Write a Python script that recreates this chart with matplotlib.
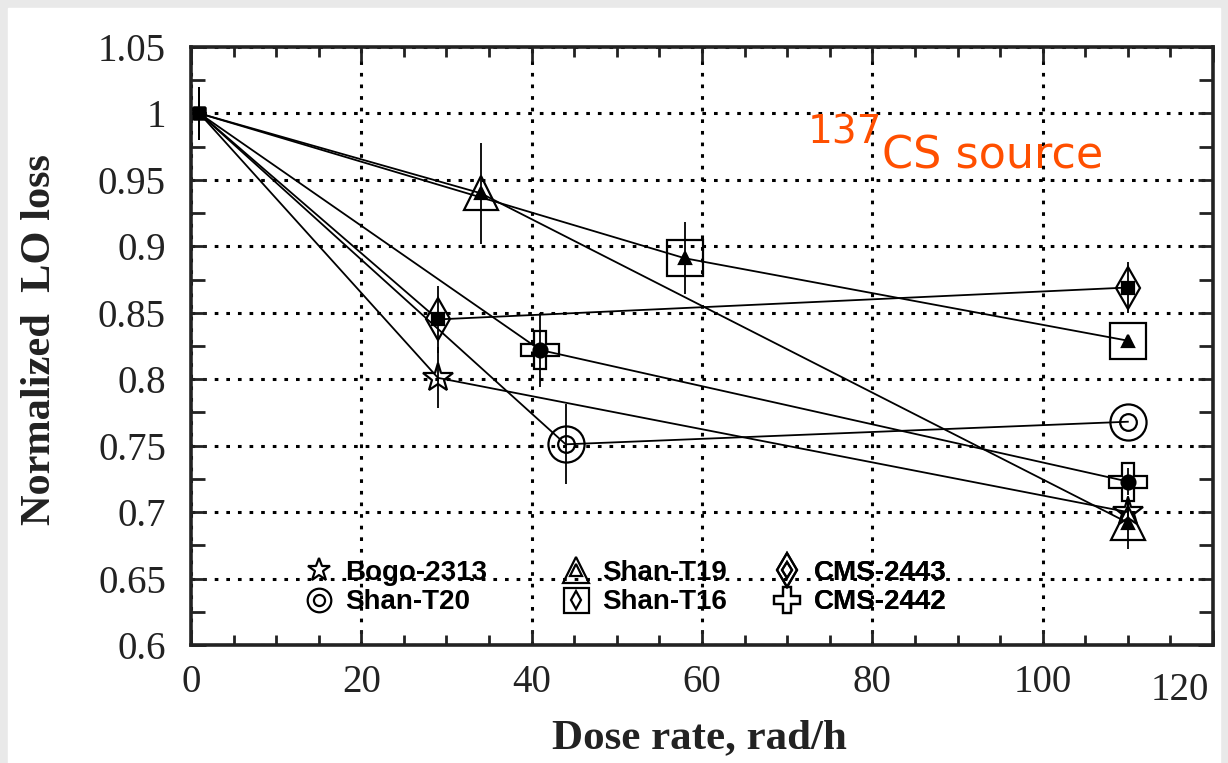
import matplotlib
matplotlib.use('Agg')
import matplotlib.pyplot as plt
from matplotlib.lines import Line2D
from matplotlib.patches import Rectangle
from matplotlib.ticker import MultipleLocator, FuncFormatter

# ---- values ----
bogo_x = [1, 29, 110]
bogo_y = [1.0, 0.801, 0.700]
bogo_err = [0.02, 0.023, 0.01]

t19_x = [1, 34, 110]
t19_y = [1.0, 0.940, 0.692]
t19_err = [0.02, 0.038, 0.02]

t16_x = [1, 58, 110]
t16_y = [1.0, 0.891, 0.829]
t16_err = [0.02, 0.027, 0.0]

cms2443_x = [1, 29, 110]
cms2443_y = [1.0, 0.845, 0.869]
cms2443_err = [0.02, 0.025, 0.019]

cms2442_x = [1, 41, 110]
cms2442_y = [1.0, 0.822, 0.723]
cms2442_err = [0.02, 0.028, 0.01]

t20_x = [1, 44, 110]
t20_y = [1.0, 0.751, 0.768]
t20_err = [0.02, 0.03, 0.0]

x_ticks = [0, 20, 40, 60, 80, 100, 120]

serif = 'Liberation Serif'

fig = plt.figure(figsize=(12.28, 7.63), dpi=100, facecolor='#e9e9e9')
fig.add_artist(Rectangle((8 / 1228, 0), 1212 / 1228, 755 / 763,
                         transform=fig.transFigure, color='white', zorder=0))
ax = fig.add_axes([0.1555, 0.1547, 0.8323, 0.7837])

# (x, y, err, outer marker, outer size, inner marker, inner size, inner filled)
series = [
    (bogo_x, bogo_y, bogo_err, '*', 22, None, 0, False),
    (t19_x, t19_y, t19_err, '^', 25, '^', 9, True),
    (t16_x, t16_y, t16_err, 's', 26, '^', 9, True),
    (cms2443_x, cms2443_y, cms2443_err, 'd', 21, 's', 9, True),
    (cms2442_x, cms2442_y, cms2442_err, 'P', 27, 'o', 10, True),
    (t20_x, t20_y, t20_err, 'o', 26, 'o', 12, False),
]

for x, y, err, m, ms, im, ims, filled in series:
    ax.errorbar(x, y, yerr=err, fmt='none', ecolor='black', elinewidth=1.3,
                capsize=0, zorder=2)
    ax.plot(x, y, color='black', lw=1.3, zorder=3)
    ax.plot(x, y, ls='none', marker=m, ms=ms, mfc='none', mec='black',
            mew=1.6, markevery=[1, 2], zorder=4)
    if im:
        ax.plot(x, y, ls='none', marker=im, ms=ims,
                mfc='black' if filled else 'none', mec='black', mew=1.6,
                markevery=[1, 2], zorder=5)
    ax.plot(x[0], y[0], ls='none', marker='s', ms=9, color='black', zorder=5)

ax.set_xlim(0, 120)
ax.set_ylim(0.6, 1.05)
ax.set_xticks(x_ticks)
ax.xaxis.set_minor_locator(MultipleLocator(5))
# the last x label sits inside the frame in the original, drawn separately
ax.xaxis.set_major_formatter(FuncFormatter(
    lambda v, p: '' if v == x_ticks[-1] else '%d' % v))
ax.yaxis.set_major_locator(MultipleLocator(0.05))
ax.yaxis.set_minor_locator(MultipleLocator(0.025))
ax.yaxis.set_major_formatter(FuncFormatter(lambda v, p: '%g' % round(v, 3)))

ax.tick_params(which='both', direction='in', top=True, right=True,
               width=2, color='#222222', labelsize=28,
               labelcolor='#222222', labelfontfamily=serif)
ax.tick_params(which='major', length=11)
ax.tick_params(axis='x', which='minor', length=7)
ax.tick_params(axis='y', which='minor', length=10)
ax.tick_params(axis='x', pad=14)
ax.tick_params(axis='y', pad=18)
ax.annotate(str(x_ticks[-1]), xy=(x_ticks[-1], 0.6), xytext=(-24, -33),
            textcoords='offset points', ha='center', va='center',
            fontsize=28, fontfamily=serif, color='#222222',
            annotation_clip=False)
for sp in ax.spines.values():
    sp.set_linewidth(2.6)
    sp.set_color('#222222')

ax.grid(True, which='major', color='black', lw=2.2, ls=(0, (1.2, 2.6)))
ax.set_axisbelow(True)

fig.text(40 / 1228, 1 - 340 / 763, 'Normalized  LO loss', rotation=90,
         ha='center', va='center', fontfamily=serif, fontweight='bold',
         fontsize=30.5, color='#222222')
fig.text(699 / 1228, 1 - 738 / 763, 'Dose rate, rad/h', ha='center',
         va='center', fontfamily=serif, fontweight='bold', fontsize=31,
         color='#222222')

# annotation
ax.text(0.603, 0.838, '137', transform=ax.transAxes, color='#ff4f00',
        fontsize=28, fontfamily='DejaVu Sans', ha='left', va='baseline')
ax.text(0.676, 0.797, 'CS source', transform=ax.transAxes, color='#ff4f00',
        fontsize=32, fontfamily='DejaVu Sans', ha='left', va='baseline')

# legend, one per column
def h(m, ms, im=None, ims=0):
    outer = Line2D([], [], ls='none', marker=m, ms=ms, mfc='none',
                   mec='black', mew=1.6)
    if im is None:
        return outer
    inner = Line2D([], [], ls='none', marker=im, ms=ims, mfc='none',
                   mec='black', mew=1.6)
    return (outer, inner)

cols = [
    ([h('*', 17), h('o', 17, 'o', 8)], ['Bogo-2313', 'Shan-T20'], 0.1115),
    ([h('^', 19, '^', 8), h('s', 18, 'd', 9)], ['Shan-T19', 'Shan-T16'], 0.363),
    ([h('d', 17, 'd', 8), h('P', 19)], ['CMS-2443', 'CMS-2442'], 0.570),
]
for hs, ls_, xa in cols:
    leg = ax.legend(hs, ls_, loc='upper left', bbox_to_anchor=(xa, 0.142),
                    frameon=False, borderpad=0, borderaxespad=0,
                    handlelength=1.0, handletextpad=0.46, labelspacing=0.12,
                    prop={'family': 'Liberation Sans', 'weight': 'bold',
                          'size': 20})
    ax.add_artist(leg)

fig.savefig('out.png', dpi=100, facecolor=fig.get_facecolor())
